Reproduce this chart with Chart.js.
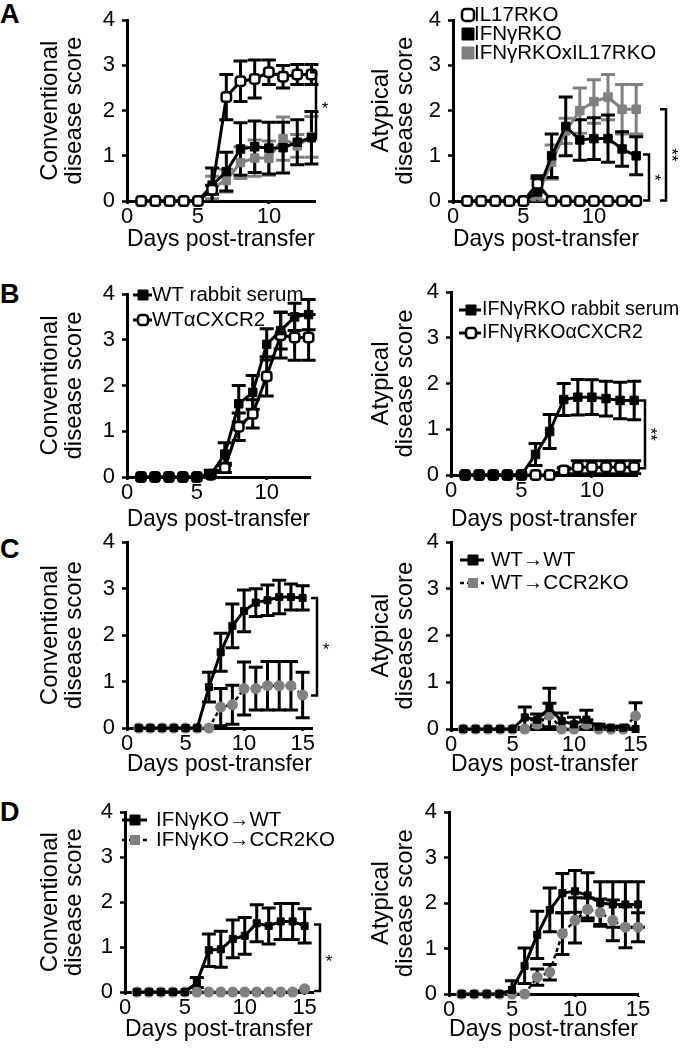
<!DOCTYPE html>
<html>
<head>
<meta charset="utf-8">
<script src="https://cdn.jsdelivr.net/npm/chart.js@4.4.1/dist/chart.umd.min.js"></script>
<style>
  body { margin: 0; background: #fff; }
  #fig { position: relative; width: 682px; height: 1050px; font-family: 'Liberation Sans', Arial, sans-serif; }
  #fig canvas { position: absolute; }
  .tag { position: absolute; left: 0; font-weight: bold; font-size: 27px; line-height: 1; }
</style>
</head>
<body>
<div id="fig">
  <div class="tag" style="top:1px">A</div>
  <div class="tag" style="top:281px">B</div>
  <div class="tag" style="top:536px">C</div>
  <div class="tag" style="top:799px">D</div>
</div>
<script>
// ---- data ----
const daysAB = [1, 2, 3, 4, 5, 6, 7, 8, 9, 10, 11, 12, 13];
const daysCD = [1, 2, 3, 4, 5, 6, 7, 8, 9, 10, 11, 12, 13, 14, 15];
const yTickVals = [0, 1, 2, 3, 4];
const xTicksAB = [0, 5, 10];
const xTicksCD = [0, 5, 10, 15];

// A conventional
const aConvIL17RKO    = [0, 0, 0, 0, 0, 0.25, 2.3, 2.65, 2.7, 2.85, 2.75, 2.8, 2.8];
const aConvIL17RKOErr = [0, 0, 0, 0, 0, 0.1, 0.5, 0.45, 0.42, 0.27, 0.25, 0.22, 0.22];
const aConvIFNgRKO    = [0, 0, 0, 0, 0, 0.35, 0.65, 1.15, 1.2, 1.17, 1.18, 1.3, 1.4];
const aConvIFNgRKOErr = [0, 0, 0, 0, 0, 0.38, 0.43, 0.58, 0.57, 0.57, 0.56, 0.5, 0.58];
const aConvDKO        = [0, 0, 0, 0, 0, 0.3, 0.45, 0.85, 0.95, 0.95, 1.38, 1.22, 1.42];
const aConvDKOErr     = [0, 0, 0, 0, 0, 0.25, 0.25, 0.35, 0.4, 0.38, 0.48, 0.25, 0.45];
// A atypical
const aAtypIL17RKO    = [0, 0, 0, 0, 0, 0.38, 0, 0, 0, 0, 0, 0, 0];
const aAtypIL17RKOErr = [0, 0, 0, 0, 0, 0.18, 0, 0, 0, 0, 0, 0, 0];
const aAtypIFNgRKO    = [0, 0, 0, 0, 0, 0.2, 1.0, 1.65, 1.35, 1.38, 1.38, 1.15, 1.0];
const aAtypIFNgRKOErr = [0, 0, 0, 0, 0, 0.3, 0.48, 0.65, 0.45, 0.46, 0.52, 0.38, 0.42];
const aAtypDKO        = [0, 0, 0, 0, 0, 0.12, 0.86, 1.55, 2.0, 2.2, 2.3, 2.03, 2.03];
const aAtypDKOErr     = [0, 0, 0, 0, 0, 0.1, 0.38, 0.28, 0.5, 0.48, 0.5, 0.55, 0.55];
// B conventional
const bConvWT       = [0, 0, 0, 0, 0, 0.05, 0.5, 1.6, 1.85, 2.9, 3.2, 3.5, 3.55];
const bConvWTErr    = [0, 0, 0, 0, 0, 0.1, 0.25, 0.4, 0.37, 0.34, 0.4, 0.3, 0.33];
const bConvCXCR2    = [0, 0, 0, 0, 0, 0.05, 0.2, 1.1, 1.38, 2.2, 3.1, 3.05, 3.05];
const bConvCXCR2Err = [0, 0, 0, 0, 0, 0.05, 0.1, 0.3, 0.31, 0.43, 0.5, 0.5, 0.5];
// B atypical
const bAtypIFNgRKO    = [0, 0, 0, 0, 0, 0.45, 0.95, 1.65, 1.7, 1.7, 1.67, 1.63, 1.63];
const bAtypIFNgRKOErr = [0, 0, 0, 0, 0, 0.24, 0.37, 0.35, 0.39, 0.38, 0.38, 0.4, 0.42];
const bAtypCXCR2      = [0, 0, 0, 0, 0, 0, 0, 0.1, 0.17, 0.17, 0.17, 0.17, 0.17];
const bAtypCXCR2Err   = [0, 0, 0, 0, 0, 0, 0, 0.06, 0.14, 0.14, 0.14, 0.14, 0.14];
// C conventional
const cConvWT      = [0, 0, 0, 0, 0, 0, 0.88, 1.63, 2.2, 2.52, 2.7, 2.75, 2.82, 2.82, 2.8];
const cConvWTErr   = [0, 0, 0, 0, 0, 0, 0.32, 0.41, 0.47, 0.45, 0.3, 0.33, 0.36, 0.28, 0.26];
const cConvCCR2    = [0, 0, 0, 0, 0, 0, 0, 0.45, 0.5, 0.85, 0.85, 0.91, 0.91, 0.91, 0.71];
const cConvCCR2Err = [0, 0, 0, 0, 0, 0, 0, 0.4, 0.42, 0.57, 0.46, 0.52, 0.52, 0.52, 0.49];
// C atypical
const cAtypWT      = [0, 0, 0, 0, 0, 0.25, 0.2, 0.45, 0.17, 0.1, 0.2, 0.05, 0.03, 0.03, 0];
const cAtypWTErr   = [0, 0, 0, 0, 0, 0.22, 0.12, 0.42, 0.17, 0.15, 0.2, 0.05, 0.03, 0.03, 0];
const cAtypCCR2    = [0, 0, 0, 0, 0, 0, 0.1, 0.3, 0, 0, 0.1, 0, 0, 0, 0.28];
const cAtypCCR2Err = [0, 0, 0, 0, 0, 0, 0.1, 0.25, 0, 0, 0.1, 0, 0, 0, 0.28];
// D conventional
const dConvWT      = [0, 0, 0, 0, 0, 0.21, 0.93, 0.95, 1.18, 1.25, 1.53, 1.47, 1.57, 1.57, 1.47];
const dConvWTErr   = [0, 0, 0, 0, 0, 0.11, 0.36, 0.4, 0.42, 0.41, 0.41, 0.4, 0.4, 0.4, 0.38];
const dConvCCR2    = [0, 0, 0, 0, 0, 0, 0, 0, 0, 0, 0, 0, 0, 0, 0.07];
// D atypical
const dAtypWT      = [0, 0, 0, 0, 0.09, 0.62, 1.3, 1.85, 2.22, 2.26, 2.17, 2.0, 1.97, 1.97, 1.97];
const dAtypWTErr   = [0, 0, 0, 0, 0.2, 0.39, 0.52, 0.48, 0.43, 0.46, 0.5, 0.47, 0.5, 0.5, 0.5];
const dAtypCCR2    = [0, 0, 0, 0, 0, 0, 0.37, 0.48, 1.33, 1.62, 1.86, 1.79, 1.62, 1.47, 1.47];
const dAtypCCR2Err = [0, 0, 0, 0, 0, 0, 0.18, 0.17, 0.46, 0.5, 0.25, 0.3, 0.45, 0.45, 0.32];

const legendA  = ['IL17RKO', 'IFNγRKO', 'IFNγRKOxIL17RKO'];
const legendB1 = ['WT rabbit serum', 'WTαCXCR2'];
const legendB2 = ['IFNγRKO rabbit serum', 'IFNγRKOαCXCR2'];
const legendC  = ['WT→WT', 'WT→CCR2KO'];
const legendD  = ['IFNγKO→WT', 'IFNγKO→CCR2KO'];

const convTitle = ['Conventional', 'disease score'];
const atypTitle = ['Atypical', 'disease score'];
const xTitle = 'Days post-transfer';

// ---- styles ----
const FONT = "'Liberation Sans', Arial, Helvetica, sans-serif";
Chart.defaults.font.family = FONT;
Chart.defaults.color = '#000';

const OPEN  = {shape: 'rectRounded', r: 5.5, fill: '#fff', stroke: '#000', pbw: 2.5, line: '#000', lw: 3, err: '#000'};
const BLACK = {shape: 'rect', r: 6, fill: '#000', stroke: '#000', pbw: 1, line: '#000', lw: 3, err: '#000'};
const GRAY  = {shape: 'rect', r: 6, fill: '#808080', stroke: '#808080', pbw: 1, line: '#808080', lw: 3, err: '#808080'};
const BLACK_SM = {shape: 'rect', r: 5, fill: '#000', stroke: '#000', pbw: 1, line: '#000', lw: 3, err: '#000'};
const GRAY_DOT = {shape: 'circle', r: 5.5, fill: '#808080', stroke: '#808080', pbw: 0, line: '#000', lw: 2.5,
                  dash: [4, 3], err: '#000', legendShape: 'rect'};

const panels = [
  {id: 'aConv', left: 0, top: 0, h: 253, plotL: 127, plotR: 315, plotT: 15, plotB: 201, xMax: 13.25,
   xTicks: xTicksAB, title: convTitle, titlePad: 38,
   series: [
     {x: daysAB, y: aConvIL17RKO, err: aConvIL17RKOErr, st: OPEN},
     {x: daysAB, y: aConvIFNgRKO, err: aConvIFNgRKOErr, st: BLACK},
     {x: daysAB, y: aConvDKO, err: aConvDKOErr, st: GRAY}],
   brackets: [{x: 316, y1: 2.85, y2: 1.38, star: '*'}]},
  {id: 'aAtyp', left: 341, top: 0, h: 253, plotL: 112, plotR: 298, plotT: 15, plotB: 201, xMax: 13.2,
   xTicks: xTicksAB, title: atypTitle, titlePad: 28,
   series: [
     {x: daysAB, y: aAtypIL17RKO, err: aAtypIL17RKOErr, st: OPEN},
     {x: daysAB, y: aAtypIFNgRKO, err: aAtypIFNgRKOErr, st: BLACK},
     {x: daysAB, y: aAtypDKO, err: aAtypDKOErr, st: GRAY}],
   legend: {labels: legendA, mx: 127, tx: 133, y: 15, dy: 19, size: 12, font: 20.5},
   brackets: [{x: 308, y1: 1.03, y2: 0.01, star: '*', rot: true},
              {x: 325, y1: 2.03, y2: 0.01, star: '**', rot: true}]},
  {id: 'bConv', left: 0, top: 255, h: 278, plotL: 127, plotR: 310, plotT: 39, plotB: 222, xMax: 13.1,
   xTicks: xTicksAB, title: convTitle, titlePad: 38,
   series: [
     {x: daysAB, y: bConvWT, err: bConvWTErr, st: BLACK},
     {x: daysAB, y: bConvCXCR2, err: bConvCXCR2Err, st: OPEN}],
   legend: {labels: legendB1, x1: 133, x2: 152, mx: 143, tx: 152, y: 40, dy: 25, size: 10, font: 20.5}},
  {id: 'bAtyp', left: 341, top: 255, h: 278, plotL: 110, plotR: 296, plotT: 37, plotB: 220, xMax: 13.2,
   xTicks: xTicksAB, title: atypTitle, titlePad: 28,
   series: [
     {x: daysAB, y: bAtypIFNgRKO, err: bAtypIFNgRKOErr, st: BLACK},
     {x: daysAB, y: bAtypCXCR2, err: bAtypCXCR2Err, st: OPEN}],
   legend: {labels: legendB2, x1: 118, x2: 140, mx: 130, tx: 141, y: 55, dy: 23, size: 10, font: 19.5},
   brackets: [{x: 304, y1: 1.63, y2: 0.15, star: '**', rot: true}]},
  {id: 'cConv', left: 0, top: 522, h: 256, plotL: 127, plotR: 312, plotT: 18, plotB: 206, xMax: 15.8,
   xTicks: xTicksCD, title: convTitle, titlePad: 38,
   series: [
     {x: daysCD, y: cConvWT, err: cConvWTErr, st: BLACK_SM},
     {x: daysCD, y: cConvCCR2, err: cConvCCR2Err, st: GRAY_DOT}],
   brackets: [{x: 317, y1: 2.8, y2: 0.7, star: '*'}]},
  {id: 'cAtyp', left: 341, top: 522, h: 256, plotL: 110, plotR: 297, plotT: 18, plotB: 207, xMax: 15.2,
   xTicks: xTicksCD, title: atypTitle, titlePad: 28,
   series: [
     {x: daysCD, y: cAtypWT, err: cAtypWTErr, st: BLACK_SM},
     {x: daysCD, y: cAtypCCR2, err: cAtypCCR2Err, st: GRAY_DOT}],
   legend: {labels: legendC, x1: 119, x2: 143, mx: 132, tx: 150, y: 38, dy: 23, size: 10, font: 20.5}},
  {id: 'dConv', left: 0, top: 792, h: 251, plotL: 125, plotR: 313, plotT: 13, plotB: 200, xMax: 15.7,
   xTicks: xTicksCD, title: convTitle, titlePad: 38,
   series: [
     {x: daysCD, y: dConvWT, err: dConvWTErr, st: BLACK_SM},
     {x: daysCD, y: dConvCCR2, err: null, st: GRAY_DOT}],
   legend: {labels: legendD, x1: 122, x2: 147, mx: 135, tx: 156, y: 28, dy: 20, size: 10, font: 20.5},
   brackets: [{x: 320, y1: 1.5, y2: 0.02, star: '*'}]},
  {id: 'dAtyp', left: 341, top: 792, h: 251, plotL: 108, plotR: 297, plotT: 15, plotB: 202, xMax: 15,
   xTicks: xTicksCD, title: atypTitle, titlePad: 28,
   series: [
     {x: daysCD, y: dAtypWT, err: dAtypWTErr, st: BLACK_SM},
     {x: daysCD, y: dAtypCCR2, err: dAtypCCR2Err, st: GRAY_DOT}]}
];

function drawMark(ctx, shape, x, y, side, fill, stroke, bw) {
  const h = side / 2;
  ctx.save();
  ctx.beginPath();
  if (shape === 'circle') ctx.arc(x, y, h, 0, Math.PI * 2);
  else if (shape === 'rectRounded') ctx.roundRect(x - h, y - h, side, side, side * 0.3);
  else ctx.rect(x - h, y - h, side, side);
  ctx.fillStyle = fill;
  ctx.fill();
  if (bw) { ctx.lineWidth = bw; ctx.strokeStyle = stroke; ctx.stroke(); }
  ctx.restore();
}

// error bars under the lines, legend + significance brackets on top
function extras(p) {
  return {
    id: 'extras',
    beforeDatasetsDraw(chart) {
      const ctx = chart.ctx, xs = chart.scales.x, ys = chart.scales.y;
      for (let i = p.series.length - 1; i >= 0; i--) {
        const s = p.series[i];
        if (!s.err) continue;
        ctx.save();
        ctx.strokeStyle = s.st.err;
        ctx.lineWidth = 3;
        s.x.forEach((d, j) => {
          const e = s.err[j];
          if (!e) return;
          const px = xs.getPixelForValue(d);
          const top = ys.getPixelForValue(s.y[j] + e);
          const bot = ys.getPixelForValue(Math.max(0, s.y[j] - e));
          ctx.beginPath();
          ctx.moveTo(px, top); ctx.lineTo(px, bot);
          ctx.moveTo(px - 7, top); ctx.lineTo(px + 7, top);
          if (s.y[j] - e > 0) { ctx.moveTo(px - 7, bot); ctx.lineTo(px + 7, bot); }
          ctx.stroke();
        });
        ctx.restore();
      }
    },
    afterDraw(chart) {
      const ctx = chart.ctx, ys = chart.scales.y;
      const lg = p.legend;
      if (lg) {
        lg.labels.forEach((txt, k) => {
          const st = p.series[k].st;
          const y = lg.y + k * lg.dy;
          if (lg.x1 != null) {
            ctx.save();
            ctx.strokeStyle = st.line;
            ctx.lineWidth = st.lw;
            ctx.setLineDash(st.dash || []);
            ctx.beginPath(); ctx.moveTo(lg.x1, y); ctx.lineTo(lg.x2, y); ctx.stroke();
            ctx.restore();
          }
          drawMark(ctx, st.legendShape || st.shape, lg.mx, y, lg.size, st.fill, st.stroke, st.pbw);
          ctx.save();
          ctx.font = lg.font + 'px ' + FONT;
          ctx.fillStyle = '#000';
          ctx.textBaseline = 'middle';
          ctx.fillText(txt, lg.tx, y);
          ctx.restore();
        });
      }
      (p.brackets || []).forEach(b => {
        const y1 = ys.getPixelForValue(b.y1), y2 = ys.getPixelForValue(b.y2);
        ctx.save();
        ctx.strokeStyle = '#000';
        ctx.lineWidth = 2.5;
        ctx.beginPath();
        ctx.moveTo(b.x - 6, y1); ctx.lineTo(b.x, y1); ctx.lineTo(b.x, y2); ctx.lineTo(b.x - 6, y2);
        ctx.stroke();
        ctx.font = '17px ' + FONT;
        ctx.fillStyle = '#000';
        ctx.textAlign = 'center';
        ctx.textBaseline = 'middle';
        ctx.translate(b.x + 9, (y1 + y2) / 2);
        if (b.rot) ctx.rotate(Math.PI / 2);
        ctx.fillText(b.star, 0, 4);
        ctx.restore();
      });
    }
  };
}

function makePanel(p) {
  const cv = document.createElement('canvas');
  cv.id = p.id;
  cv.width = 341;
  cv.height = p.h;
  cv.style.left = p.left + 'px';
  cv.style.top = p.top + 'px';
  document.getElementById('fig').appendChild(cv);

  const axisGrid = {display: true, drawOnChartArea: false, drawTicks: true, color: '#000', tickColor: '#000', tickWidth: 2.5};
  new Chart(cv, {
    type: 'line',
    data: {
      datasets: p.series.map(s => ({
        data: s.x.map((d, i) => ({x: d, y: s.y[i]})),
        borderColor: s.st.line,
        borderWidth: s.st.lw,
        borderDash: s.st.dash || [],
        pointStyle: s.st.shape,
        pointRadius: s.st.r,
        pointBackgroundColor: s.st.fill,
        pointBorderColor: s.st.stroke,
        pointBorderWidth: s.st.pbw,
        tension: 0,
        clip: false
      }))
    },
    options: {
      responsive: false,
      devicePixelRatio: 1,
      animation: false,
      events: [],
      layout: {padding: {left: 0, top: p.plotT, right: 341 - p.plotR, bottom: 0}},
      plugins: {legend: {display: false}, tooltip: {enabled: false}},
      scales: {
        x: {
          type: 'linear', min: 0, max: p.xMax,
          afterBuildTicks: sc => { sc.ticks = p.xTicks.map(v => ({value: v})); },
          afterFit: sc => { sc.height = p.h - p.plotB; },
          ticks: {font: {size: 22}, color: '#000', padding: 0, maxRotation: 0, autoSkip: false},
          grid: Object.assign({tickLength: 3}, axisGrid),
          border: {display: true, color: '#000', width: 3},
          title: {display: true, text: xTitle, color: '#000', font: {size: 24, lineHeight: 1.15}, padding: 0}
        },
        y: {
          min: 0, max: 4,
          afterBuildTicks: sc => { sc.ticks = yTickVals.map(v => ({value: v})); },
          afterFit: sc => { sc.width = p.plotL; },
          ticks: {font: {size: 22}, color: '#000', padding: 7},
          grid: Object.assign({tickLength: 5}, axisGrid),
          border: {display: true, color: '#000', width: 3},
          title: {display: true, text: p.title, color: '#000', font: {size: 24, lineHeight: '24px'},
                  padding: {top: p.titlePad, bottom: 0}}
        }
      }
    },
    plugins: [extras(p)]
  });
}

panels.forEach(makePanel);
</script>
</body>
</html>
